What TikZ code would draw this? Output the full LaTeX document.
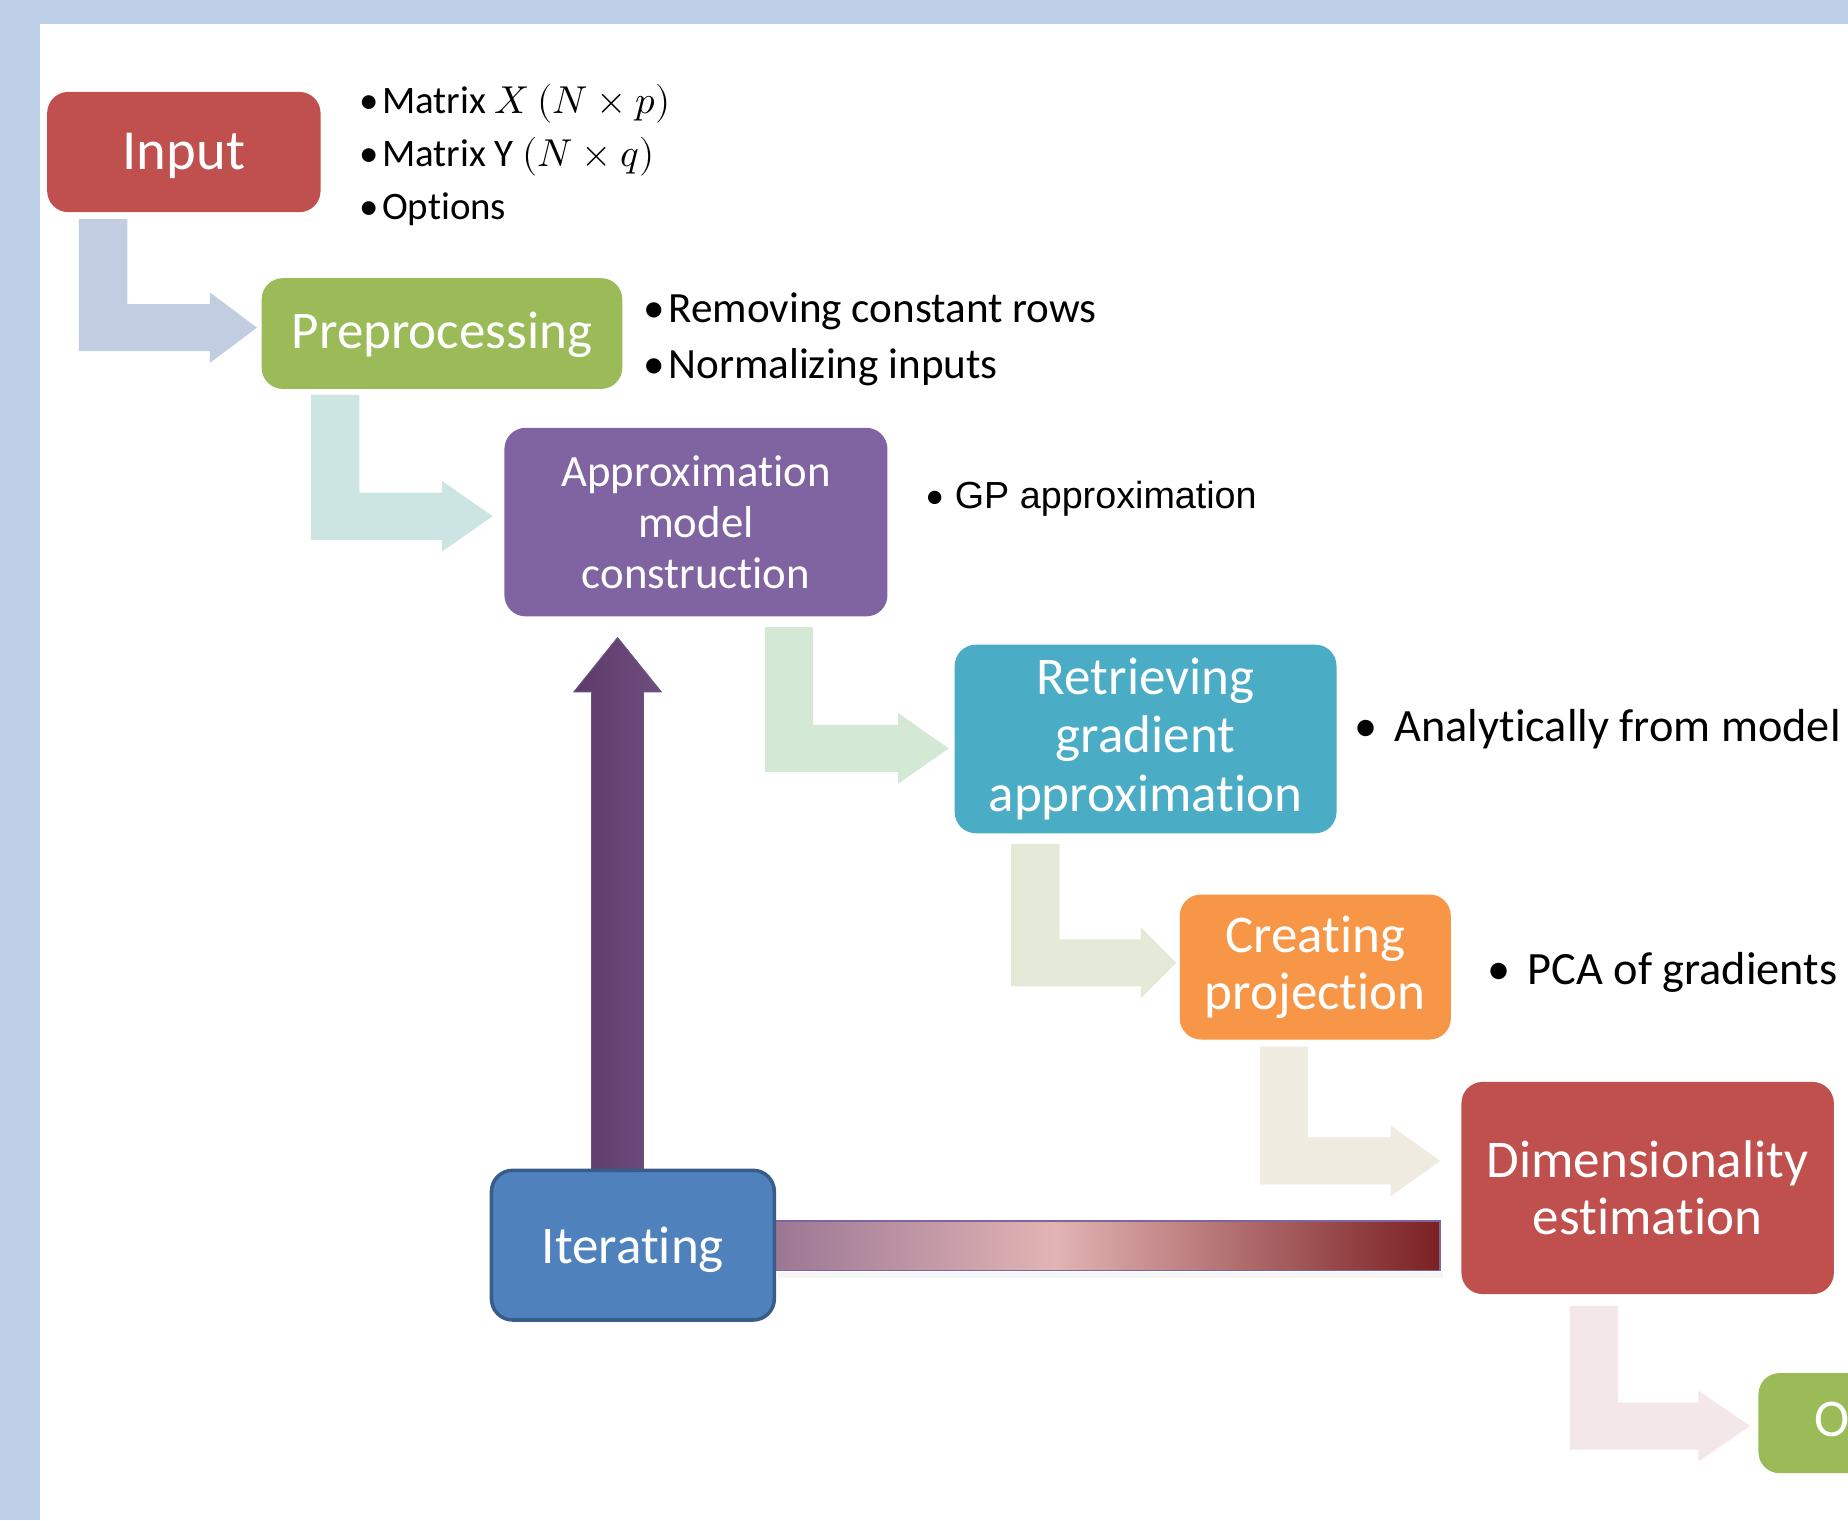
\documentclass[tikz,border=0pt]{standalone}
\usepackage{fontspec}
\usepackage{unicode-math}
\setmainfont{Carlito}[Ligatures={NoCommon,NoContextual,NoRare,TeX},Contextuals=NoAlternate]
\newfontfamily\arialf{Liberation Sans}[Ligatures={NoCommon}]
\newfontfamily\carlitof{Carlito}
\usetikzlibrary{calc}
\definecolor{bgblue}{HTML}{BDD0E7}
\definecolor{cRed}{HTML}{C0504D}
\definecolor{cGreen}{HTML}{9BBB59}
\definecolor{cPurple}{HTML}{8064A2}
\definecolor{cTeal}{HTML}{4BACC6}
\definecolor{cOrange}{HTML}{F79646}
\definecolor{cBlue}{HTML}{4F81BD}
\definecolor{cBlueD}{HTML}{385D8A}
\definecolor{aOne}{HTML}{C3CDE1}
\definecolor{aTwo}{HTML}{CCE4E2}
\definecolor{aThree}{HTML}{D4E8D6}
\definecolor{aFour}{HTML}{E3EAD7}
\definecolor{aFive}{HTML}{EFEBE1}
\definecolor{aSix}{HTML}{F3E7E7}
\definecolor{barA}{HTML}{9B7794}
\definecolor{barB}{HTML}{E2B4B4}
\definecolor{barC}{HTML}{7A2022}
\definecolor{upL}{HTML}{5C3B6A}
\definecolor{upR}{HTML}{6F4E7F}
\pgfdeclarehorizontalshading{iterbar}{100bp}{color(0bp)=(barA); color(25bp)=(barA); color(46bp)=(barB); color(75bp)=(barC); color(100bp)=(barC)}
\newcommand\bul[1]{\makebox[#1][l]{\textbullet}}
\newcommand\dn[2]{\raisebox{-#1}[\height][\depth]{#2}}
\newcommand\larrow[6]{\fill[#1] (#2,#3) -- (#2+41,#3) -- (#2+41,#4-20) -- (#5,#4-20) -- (#5,#4-30) -- (#6,#4) -- (#5,#4+30) -- (#5,#4+20) -- (#2,#4+20) -- cycle;}
\begin{document}
\begin{tikzpicture}[x=1pt,y=-1pt,
  box/.style={rounded corners=18pt, text=white, align=center, inner sep=0pt, font=\fontsize{45}{48}\selectfont},
  lbl/.style={anchor=base west, inner sep=0pt, text=black}]
\clip (0,0) rectangle (1568,1290);
\fill[bgblue] (0,0) rectangle (1568,1290);
\fill[white] (34,20) rectangle (1568,1290);

% block L-arrows
\larrow{aOne}{67}{186}{278}{178}{218}
\larrow{aTwo}{264}{335}{438}{375}{418}
\larrow{aThree}{649}{532}{635}{762}{805}
\larrow{aFour}{858}{716}{817}{968}{998}
\larrow{aFive}{1069}{888}{985}{1180}{1222}
\larrow{aSix}{1332}{1108}{1210}{1441}{1485}

% nodes
\node[box, fill=cRed, minimum width=232pt, minimum height=102pt, font=\fontsize{48}{52}\selectfont] (in) at (156,129) {\dn{3pt}{Input}};
\node[box, fill=cGreen, minimum width=306pt, minimum height=94pt] (pre) at (375,283) {\dn{1pt}{Preprocessing}};
\node[box, fill=cPurple, minimum width=325pt, minimum height=160pt, font=\fontsize{38}{43.5}\selectfont] (apx) at (590.5,443) {Approximation\\model\\construction};
\node[box, fill=cTeal, minimum width=324pt, minimum height=160pt, font=\fontsize{45}{49.5}\selectfont] (ret) at (972,627) {Retrieving\\gradient\\approximation};
\node[box, fill=cOrange, minimum width=230pt, minimum height=123pt] (cre) at (1116,820.5) {Creating\\projection};
\node[box, fill=cRed, minimum width=316pt, minimum height=180pt] (dim) at (1398,1008) {Dimensionality\\estimation};
\node[box, fill=cGreen, minimum width=226pt, minimum height=85pt] (out) at (1605,1207.5) {Output};

% feedback: gradient bar from Dimensionality back to Iterating
\fill[black!4] (660,1079) rectangle (1224,1084);
\shade[shading=iterbar] (657,1036) rectangle (1222,1078);
\draw[cPurple, line width=1.5pt] (657,1036) -- (1222,1036) -- (1222,1078) -- (657,1078);

% up arrow from Iterating to Approximation model construction
\shade[left color=upL, right color=upR, draw=cPurple!80!black, line width=0.8pt]
  (502,996) -- (502,587) -- (487,587) -- (524,541) -- (561,587) -- (546,587) -- (546,996) -- cycle;

\node[box, fill=cBlue, draw=cBlueD, line width=3pt, minimum width=240pt, minimum height=127pt] (it) at (537,1056.5) {\dn{4pt}{Iterating}};

% bullet labels
\node[lbl, font=\fontsize{33}{40}\selectfont] (l1) at (305,96.5) {\bul{19pt}Matrix $X$ $(N\times p)$};
\node[lbl, font=\fontsize{33}{40}\selectfont] (l2) at (305,141.5) {\bul{19pt}Matrix Y $(N\times q)$};
\node[lbl, font=\fontsize{33}{40}\selectfont] (l3) at (305,186.5) {\bul{19pt}Options};
\node[lbl, font=\fontsize{36.6}{42}\selectfont] (l4) at (546,273.5) {\bul{21pt}Removing constant rows};
\node[lbl, font=\fontsize{36.6}{42}\selectfont] (l5) at (546,321.5) {\bul{21pt}Normalizing inputs};
\node[lbl, font=\arialf\fontsize{32}{38}\selectfont] (l6) at (785,431.5) {{\carlitof\bul{25pt}}GP approximation};
\node[lbl, font=\fontsize{39.3}{46}\selectfont] (l7) at (1149,629.5) {\bul{34pt}Analytically from model};
\node[lbl, font=\fontsize{39.3}{46}\selectfont] (l8) at (1262,835.5) {\bul{34pt}PCA of gradients};
\end{tikzpicture}
\end{document}
